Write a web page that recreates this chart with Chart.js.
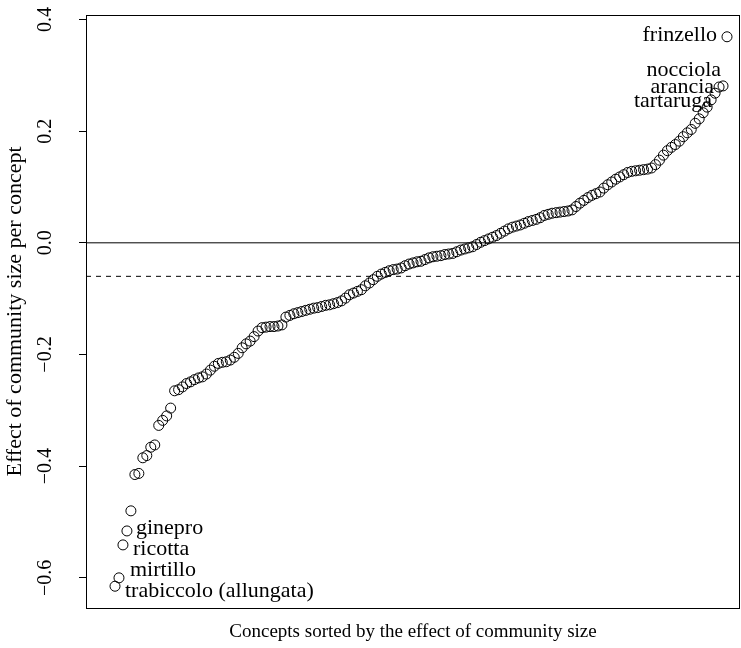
<!DOCTYPE html>
<html><head><meta charset="utf-8">
<script src="https://cdn.jsdelivr.net/npm/chart.js@4.4.1/dist/chart.umd.min.js"></script>
<style>html,body{margin:0;padding:0;background:#fff;}#wrap{width:741px;height:648px;position:relative;}canvas{display:block;}</style>
</head><body><div id="wrap"><canvas id="c" width="741" height="648" style="width:741px;height:648px"></canvas></div>
<script>
// Effect of community size per concept, sorted ascending
const effects = [
-0.615,-0.600,-0.541,-0.516,-0.480,-0.415,-0.413,-0.385,-0.381,-0.366,
-0.362,-0.327,-0.318,-0.310,-0.296,-0.265,-0.263,-0.258,-0.252,-0.249,
-0.245,-0.242,-0.240,-0.235,-0.228,-0.221,-0.216,-0.214,-0.213,-0.210,
-0.205,-0.198,-0.188,-0.181,-0.176,-0.168,-0.158,-0.152,-0.151,-0.150,
-0.150,-0.149,-0.147,-0.133,-0.130,-0.127,-0.125,-0.123,-0.121,-0.119,
-0.117,-0.116,-0.114,-0.112,-0.111,-0.109,-0.107,-0.104,-0.099,-0.093,
-0.090,-0.087,-0.084,-0.077,-0.072,-0.066,-0.060,-0.056,-0.053,-0.050,
-0.048,-0.047,-0.045,-0.041,-0.038,-0.036,-0.034,-0.033,-0.030,-0.027,
-0.025,-0.024,-0.023,-0.021,-0.020,-0.019,-0.016,-0.013,-0.011,-0.009,
-0.007,-0.003,0.001,0.004,0.007,0.010,0.013,0.017,0.021,0.025,
0.028,0.030,0.032,0.035,0.038,0.040,0.042,0.045,0.049,0.051,
0.053,0.054,0.055,0.056,0.057,0.059,0.065,0.071,0.076,0.081,
0.085,0.088,0.091,0.098,0.104,0.109,0.114,0.118,0.122,0.126,
0.128,0.129,0.130,0.131,0.132,0.134,0.140,0.148,0.157,0.165,
0.171,0.176,0.182,0.190,0.197,0.203,0.214,0.222,0.233,0.243,
0.256,0.268,0.279,0.281,0.369
];
const yTicks = [-0.6, -0.4, -0.2, 0.0, 0.2, 0.4];
const yTickLabels = ['\u22120.6', '\u22120.4', '\u22120.2', '0.0', '0.2', '0.4'];
const hLines = [0, -0.06];
const labelNames = ['trabiccolo (allungata)', 'mirtillo', 'ricotta', 'ginepro', 'tartaruga', 'arancia', 'nocciola', 'frinzello'];
const labelRanks = [1, 2, 3, 4, 152, 153, 154, 155];
const xTitle = 'Concepts sorted by the effect of community size';
const yTitle = 'Effect of community size per concept';

// ----- layout / style (not data) -----
const FONT = '"Liberation Serif", "Times New Roman", serif';
const FS_TICK = 20, FS_XT = 19, FS_YT = 22, FS_LAB = 22;
const X_MIN = -6.30, X_MAX = 158.27, Y_MIN = -0.654, Y_MAX = 0.408;
// label offsets: [dx, dy, align]
const labelStyle = [
  [10, 5, 'left'], [11, -8, 'left'], [10, 4, 'left'], [9, -3, 'left'],
  [-3, 8, 'right'], [-5, 0, 'right'], [-2, -16, 'right'], [-10, -2, 'right']
];

const points = effects.map((v, i) => ({x: i + 1, y: v}));
const lineSets = hLines.map((h, k) => ({
  type: 'line',
  data: [{x: X_MIN, y: h}, {x: X_MAX, y: h}],
  borderColor: '#000', borderWidth: 1, pointRadius: 0,
  borderDash: k === 0 ? [] : [5, 5], fill: false, order: 2
}));

const textPlugin = {
  id: 'rtext',
  afterDraw(chart) {
    const ctx = chart.ctx, a = chart.chartArea;
    const xs = chart.scales.x, ys = chart.scales.y;
    ctx.save();
    ctx.strokeStyle = '#000'; ctx.lineWidth = 1;
    ctx.strokeRect(Math.round(a.left) + 0.5, Math.round(a.top) + 0.5,
                   Math.round(a.right - a.left) - 1, Math.round(a.bottom - a.top));
    ctx.fillStyle = '#000';
    ctx.textBaseline = 'middle';
    ctx.font = FS_TICK + 'px ' + FONT;
    yTicks.forEach((v, i) => {
      ctx.save();
      ctx.translate(46, ys.getPixelForValue(v));
      ctx.rotate(-Math.PI / 2);
      ctx.textAlign = 'center';
      ctx.fillText(yTickLabels[i], 0, 0);
      ctx.restore();
    });
    ctx.font = FS_YT + 'px ' + FONT;
    ctx.save();
    ctx.translate(15, (a.top + a.bottom) / 2);
    ctx.rotate(-Math.PI / 2);
    ctx.textAlign = 'center';
    ctx.fillText(yTitle, 0, 0);
    ctx.restore();
    ctx.font = FS_XT + 'px ' + FONT;
    ctx.textAlign = 'center';
    ctx.fillText(xTitle, (a.left + a.right) / 2, 632);
    ctx.font = FS_LAB + 'px ' + FONT;
    labelNames.forEach((name, k) => {
      const r = labelRanks[k];
      const px = xs.getPixelForValue(r), py = ys.getPixelForValue(effects[r - 1]);
      const st = labelStyle[k];
      ctx.textAlign = st[2];
      ctx.fillText(name, px + st[0], py + st[1]);
    });
    ctx.restore();
  }
};

new Chart(document.getElementById('c'), {
  type: 'scatter',
  data: {
    datasets: [
      {
        data: points, order: 1,
        pointStyle: 'circle', pointRadius: 5, pointHoverRadius: 5,
        borderColor: '#000', borderWidth: 1, backgroundColor: 'rgba(0,0,0,0)'
      },
      ...lineSets
    ]
  },
  options: {
    responsive: false, animation: false, devicePixelRatio: 1,
    layout: {autoPadding: false, padding: {left: 0, right: 1, top: 15, bottom: 40}},
    plugins: {legend: {display: false}, tooltip: {enabled: false}},
    scales: {
      x: {type: 'linear', min: X_MIN, max: X_MAX, display: false},
      y: {
        type: 'linear', min: Y_MIN, max: Y_MAX,
        afterBuildTicks(s) { s.ticks = yTicks.map(v => ({value: v})); },
        afterFit(s) { s.width = 86; },
        ticks: {display: false},
        grid: {drawOnChartArea: false, drawTicks: true, tickLength: 7, color: '#000', lineWidth: 1},
        border: {display: true, color: '#000', width: 1}
      }
    }
  },
  plugins: [textPlugin]
});
</script></body></html>
